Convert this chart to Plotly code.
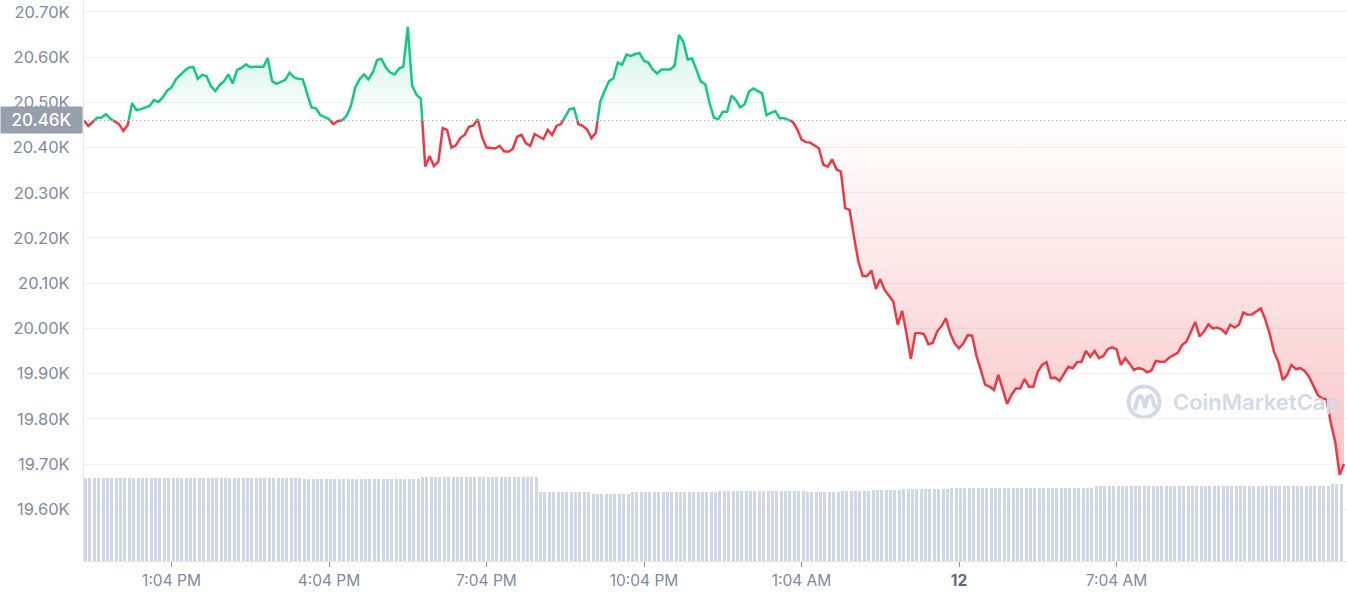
import pandas as pd
import plotly.graph_objects as go

# ---------------- data ----------------
START = "2022-10-11 11:24"      # first 5-minute sample
STEP_MIN = 5                    # minutes between samples

# 5-minute sample number (from START) of each price reading
sample = [
    0, 1, 3, 4, 5, 6, 8, 9, 10, 11, 12, 13, 15, 16, 17, 18, 19, 20, 21, 23,
    24, 25, 26, 27, 28, 29, 30, 31, 32, 33, 34, 35, 36, 37, 38, 39, 41, 42, 43, 44,
    46, 47, 48, 49, 50, 52, 53, 54, 56, 57, 58, 59, 60, 61, 62, 63, 64, 65, 66, 67,
    68, 69, 70, 71, 72, 73, 74, 75, 76, 77, 78, 79, 80, 81, 82, 83, 84, 85, 86, 87,
    88, 89, 90, 91, 92, 94, 95, 96, 97, 98, 99, 100, 101, 102, 103, 104, 105, 106, 107, 108,
    109, 110, 111, 112, 113, 114, 115, 116, 117, 118, 119, 120, 121, 122, 123, 124, 125, 126, 127, 128,
    129, 130, 131, 132, 134, 135, 136, 137, 138, 139, 140, 141, 142, 143, 144, 145, 146, 147, 148, 149,
    150, 151, 152, 153, 155, 156, 157, 158, 159, 160, 162, 163, 164, 165, 166, 168, 169, 170, 171, 172,
    173, 174, 175, 176, 177, 178, 179, 180, 181, 182, 183, 184, 185, 186, 187, 188, 189, 190, 191, 192,
    193, 194, 195, 196, 197, 198, 199, 200, 201, 202, 203, 204, 206, 207, 208, 209, 210, 211, 212, 213,
    214, 215, 216, 217, 218, 219, 220, 221, 222, 223, 225, 226, 227, 228, 229, 230, 231, 232, 233, 234,
    235, 236, 237, 238, 239, 240, 241, 242, 243, 244, 245, 246, 247, 248, 250, 251, 252, 253, 254, 255,
    256, 257, 258, 259, 260, 261, 262, 263, 264, 265, 266, 267, 268, 269, 270, 271, 272, 273, 274, 275,
    276, 277, 278, 279, 280, 281, 282, 283, 284, 285, 286, 287, 288,
]

# BTC price, USD
price_usd = [
    20460, 20448, 20466, 20466, 20474, 20464, 20452, 20437, 20450, 20498, 20483, 20485, 20492, 20505, 20501, 20511, 20526, 20533, 20551, 20570,
    20577, 20578, 20552, 20561, 20558, 20536, 20525, 20538, 20547, 20562, 20542, 20572, 20576, 20584, 20578, 20579, 20579, 20598, 20547, 20541,
    20550, 20566, 20555, 20552, 20551, 20489, 20487, 20472, 20463, 20452, 20459, 20460, 20470, 20492, 20533, 20551, 20562, 20551, 20566, 20594,
    20596, 20577, 20566, 20562, 20575, 20579, 20667, 20537, 20517, 20508, 20358, 20381, 20359, 20369, 20443, 20439, 20400, 20405, 20421, 20428,
    20446, 20449, 20463, 20423, 20400, 20398, 20404, 20392, 20391, 20397, 20424, 20428, 20410, 20404, 20430, 20424, 20419, 20439, 20428, 20448,
    20452, 20468, 20485, 20487, 20452, 20448, 20440, 20421, 20433, 20502, 20525, 20547, 20553, 20588, 20583, 20606, 20603, 20607, 20609, 20592,
    20588, 20573, 20564, 20573, 20573, 20581, 20649, 20634, 20595, 20597, 20572, 20546, 20540, 20498, 20466, 20463, 20479, 20479, 20515, 20505,
    20489, 20496, 20524, 20531, 20520, 20472, 20477, 20481, 20465, 20465, 20457, 20441, 20418, 20412, 20411, 20398, 20362, 20358, 20374, 20352,
    20347, 20266, 20262, 20203, 20148, 20116, 20116, 20128, 20087, 20109, 20085, 20072, 20059, 20008, 20039, 19989, 19932, 19989, 19990, 19987,
    19965, 19968, 19993, 20005, 20022, 19989, 19967, 19956, 19967, 19985, 19984, 19939, 19875, 19871, 19864, 19897, 19867, 19833, 19853, 19867,
    19867, 19888, 19871, 19871, 19904, 19919, 19925, 19890, 19891, 19884, 19915, 19912, 19925, 19926, 19950, 19937, 19950, 19934, 19939, 19954,
    19958, 19954, 19919, 19934, 19922, 19908, 19912, 19910, 19903, 19907, 19928, 19926, 19926, 19935, 19946, 19963, 19971, 19993, 20014, 19982,
    19993, 20009, 20000, 20002, 19998, 19989, 20008, 20002, 20008, 20035, 20030, 20031, 20037, 20044, 20020, 19989, 19948, 19926, 19886, 19897,
    19919, 19910, 19912, 19906, 19893, 19871, 19853, 19845, 19843, 19790, 19749, 19676, 19700,
]

base_price = 20460   # opening price of the 24h window (dotted reference line)

# 24h volume, billions USD, one bar per 5-minute sample (runs of equal height)
volume_bn = ([34.6] * 50 + [34.2] * 27 + [35.0] * 27 + [28.8] * 12 + [28.1] * 9 +
             [28.8] * 20 + [29.2] * 20 + [28.8] * 8 + [29.0] * 7 + [29.4] * 7 +
             [30.0] * 11 + [30.6] * 33 + [31.2] * 54 + [32.0] * 3)

y_tick_vals = [19600, 19700, 19800, 19900, 20000, 20100, 20200, 20300, 20400, 20500, 20600, 20700]
x_tick_times = ["2022-10-11 13:04", "2022-10-11 16:04", "2022-10-11 19:04", "2022-10-11 22:04",
                "2022-10-12 01:04", "2022-10-12 04:04", "2022-10-12 07:04"]
x_tick_text = ["1:04 PM", "4:04 PM", "7:04 PM", "10:04 PM", "1:04 AM",
               "<b style='color:#5f6b80'>12</b>", "7:04 AM"]

# ---------------- styling ----------------
GREEN = "#16c784"
RED = "#ea3943"
GRAY = "#808a9d"
GRID = "#eef1f5"
BAR = "#cfd6e4"
WM = "#d3d9e5"
FONT = "Inter, 'Open Sans', sans-serif"

t0 = pd.Timestamp(START)
times = [t0 + pd.Timedelta(minutes=STEP_MIN * s) for s in sample]
bar_times = [t0 + pd.Timedelta(minutes=STEP_MIN * i) for i in range(len(volume_bn))]

# split the price line where it crosses the reference price
xs, ys = [], []
for i, p in enumerate(price_usd):
    if i > 0:
        a = price_usd[i - 1] - base_price
        b = p - base_price
        if a * b < 0:
            f = a / (a - b)
            xs.append(times[i - 1] + (times[i] - times[i - 1]) * f)
            ys.append(base_price)
    xs.append(times[i])
    ys.append(p)

upper = [max(v, base_price) for v in ys]
lower = [min(v, base_price) for v in ys]
green_line = [v if v >= base_price else None for v in ys]
red_line = [v if v <= base_price else None for v in ys]
basel = [base_price] * len(xs)

fig = go.Figure()

fig.add_trace(go.Bar(
    x=bar_times, y=volume_bn, yaxis="y2", marker=dict(color=BAR, line=dict(width=0)),
    width=STEP_MIN * 60 * 1000 * 0.7, offset=0, hoverinfo="skip"))

fig.add_trace(go.Scatter(x=xs, y=basel, mode="lines", line=dict(width=0), hoverinfo="skip"))
fig.add_trace(go.Scatter(
    x=xs, y=upper, mode="lines", line=dict(width=0), fill="tonexty",
    fillgradient=dict(type="vertical", start=base_price, stop=max(price_usd),
                      colorscale=[[0, "rgba(22,199,132,0)"], [1, "rgba(22,199,132,0.22)"]]),
    hoverinfo="skip"))
fig.add_trace(go.Scatter(x=xs, y=basel, mode="lines", line=dict(width=0), hoverinfo="skip"))
fig.add_trace(go.Scatter(
    x=xs, y=lower, mode="lines", line=dict(width=0), fill="tonexty",
    fillgradient=dict(type="vertical", start=min(price_usd), stop=base_price,
                      colorscale=[[0, "rgba(234,57,67,0.30)"], [1, "rgba(234,57,67,0)"]]),
    hoverinfo="skip"))

fig.add_trace(go.Scatter(x=xs, y=red_line, mode="lines", connectgaps=False,
                         line=dict(color=RED, width=2.5), hoverinfo="skip"))
fig.add_trace(go.Scatter(x=xs, y=green_line, mode="lines", connectgaps=False,
                         line=dict(color=GREEN, width=2.5), hoverinfo="skip"))

# dotted reference line
fig.add_shape(type="line", xref="paper", x0=0, x1=1, yref="y", y0=base_price, y1=base_price,
              line=dict(color="#9aa3b2", width=1, dash="1px,3px"), layer="above")

# reference price label box
fig.add_annotation(xref="paper", x=0, xanchor="right", xshift=-1, yref="y", y=base_price,
                   yanchor="middle", text=f"{base_price / 1000:.2f}K", showarrow=False,
                   bgcolor="#979eac", width=77, height=22, borderpad=2,
                   font=dict(family=FONT, size=17, color="white", weight=500))

# watermark
lx = (1144 - 84) / 1263
ly = (561 - 402) / 561
fig.add_shape(type="circle", xref="paper", yref="paper", xsizemode="pixel", ysizemode="pixel",
              xanchor=lx, yanchor=ly, x0=-15.5, x1=15.5, y0=-15.5, y1=15.5,
              line=dict(color=WM, width=4), layer="below")
fig.add_shape(type="path", xref="paper", yref="paper", xsizemode="pixel", ysizemode="pixel",
              xanchor=lx, yanchor=ly,
              path="M -9,-8 Q -6,7 -3.5,6 Q -1,5 1,-6 Q 3,7 6.5,6 Q 9,4 10,-3 Q 12,-6 15,-8",
              line=dict(color=WM, width=4), layer="below")
fig.add_annotation(xref="paper", yref="paper", x=(1171 - 84) / 1263, xanchor="left",
                   y=ly, yanchor="middle", text="CoinMarketCap", showarrow=False,
                   font=dict(family=FONT, size=22, color=WM, weight=600))

fig.update_layout(
    width=1347, height=600,
    margin=dict(l=84, r=0, t=0, b=39, autoexpand=False),
    paper_bgcolor="white", plot_bgcolor="white",
    showlegend=False, bargap=0,
    font=dict(family=FONT, size=16, color=GRAY),
    xaxis=dict(type="date", range=[t0, t0 + pd.Timedelta(minutes=24 * 60 + 3.43)],
               tickvals=x_tick_times, ticktext=x_tick_text, showgrid=False, zeroline=False,
               showline=True, linecolor="#e3e7ed", linewidth=1, automargin=False,
               ticks="outside", ticklen=5, tickwidth=1, tickcolor="#8e97a8",
               tickfont=dict(family=FONT, size=15.5, color=GRAY)),
    yaxis=dict(range=[19485.4, 20726.5], tickvals=y_tick_vals,
               ticktext=[f"{v / 1000:.2f}K" for v in y_tick_vals],
               showgrid=True, gridcolor=GRID, gridwidth=1, zeroline=False, automargin=False,
               showline=True, linecolor="#e3e7ed", linewidth=1, ticks="",
               ticklabelstandoff=10, tickfont=dict(family=FONT, size=16.5, color=GRAY)),
    yaxis2=dict(overlaying="y", range=[0, 233.9], visible=False),
)

fig.write_html("out.html", config={"displayModeBar": False},
               post_script="document.body.style.margin='0px';")
